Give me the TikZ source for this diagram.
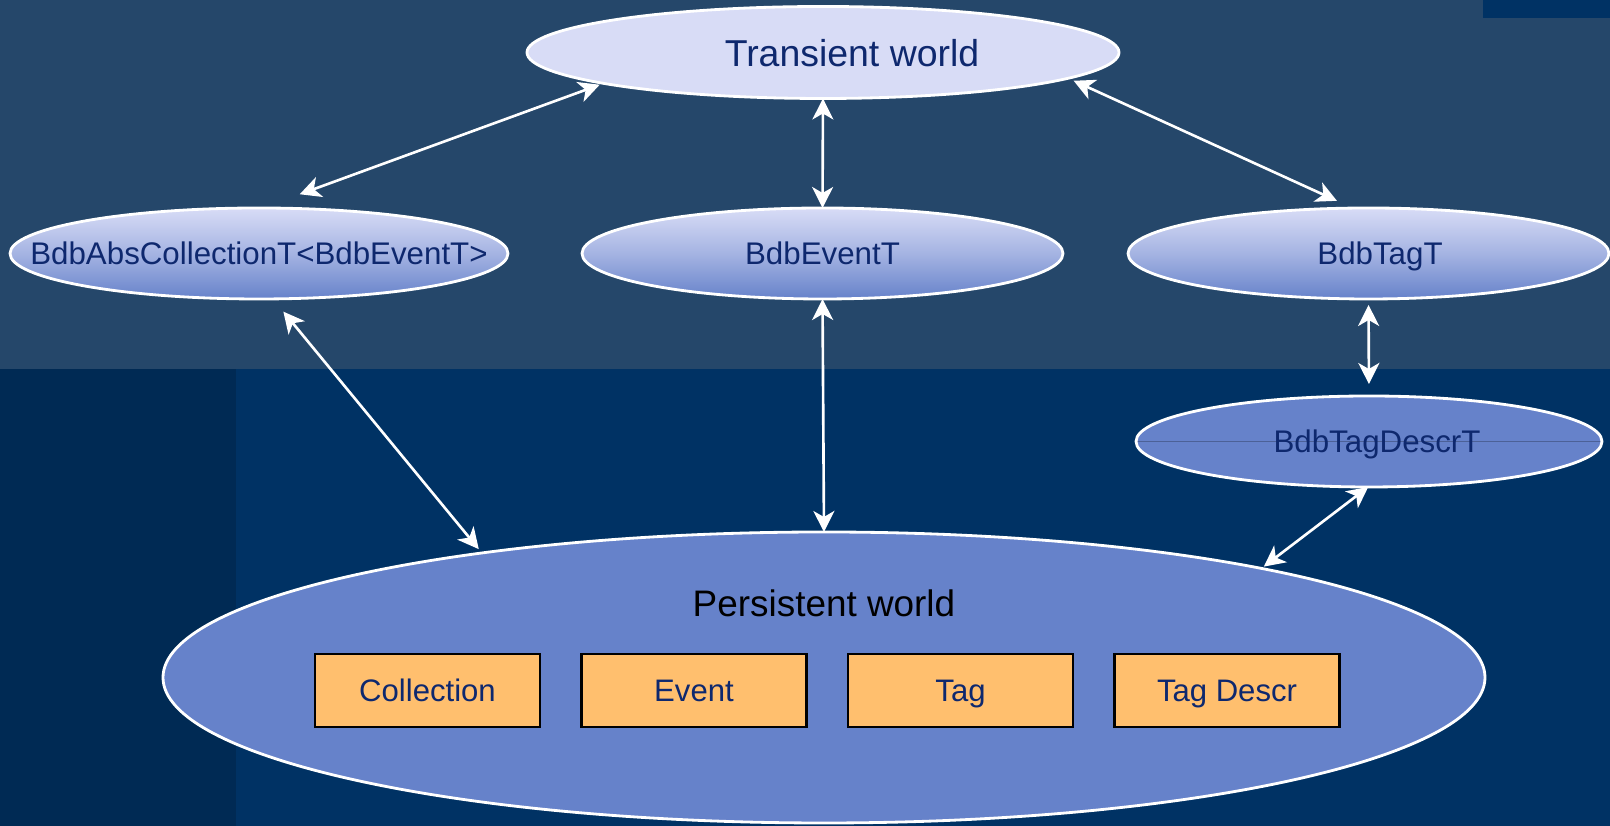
\documentclass[tikz,border=0pt]{standalone}
\usepackage{fontspec}
\setmainfont{Liberation Sans}
\usetikzlibrary{shapes.geometric,positioning,arrows.meta}

\definecolor{bandtop}{RGB}{37,71,106}
\definecolor{bandnavy}{RGB}{0,50,100}
\definecolor{banddark}{RGB}{0,42,84}
\definecolor{worldlight}{RGB}{216,220,246}
\definecolor{worldblue}{RGB}{102,130,202}
\definecolor{textnavy}{RGB}{14,40,110}
\definecolor{storeorange}{RGB}{255,191,110}

\newcommand{\flattext}[2][0pt]{\makebox[0pt]{\hspace*{#1}\hspace*{#1}#2}}

\begin{document}
\begin{tikzpicture}[
		world/.style={ellipse, draw=white, line width=1.6pt, inner sep=0pt, outer sep=0pt,
			text=textnavy, text depth=0pt, font=\fontsize{17.8}{20}\selectfont},
		shaded world/.style={world, top color=worldlight, bottom color=worldblue,
			middle color=worldlight!55!worldblue},
		store/.style={rectangle, draw=black, line width=1.6pt, fill=storeorange, inner sep=0pt,
			outer sep=0pt, minimum width=4.5cm, minimum height=1.46cm, text=textnavy,
			text depth=0pt, font=\fontsize{17.7}{20}\selectfont},
		link/.style={white, line width=1.5pt, >={Stealth[length=4.2mm, width=4.2mm, inset=1.2mm]}, <->}
	]
		\useasboundingbox (0, 0) rectangle (32.2, 16.52);
		\fill [bandtop] (0, 9.14) rectangle (32.2, 16.52);
		\fill [bandnavy] (4.72, 0) rectangle (32.2, 9.14);
		\fill [banddark] (0, 0) rectangle (4.72, 9.14);
		\fill [bandnavy] (29.66, 16.16) rectangle (32.2, 16.52);

		\node [world, fill=worldlight, minimum width=11.84cm, minimum height=1.84cm,
			font=\fontsize{21.3}{25}\selectfont] (transient) at (16.46, 15.47) {\flattext[0.58cm]{Transient world}};

		\node [shaded world, minimum width=9.96cm, minimum height=1.82cm] (abscoll) at (5.18, 11.45)
			{\flattext{BdbAbsCollectionT<BdbEventT>}};
		\node [shaded world, minimum width=9.62cm, minimum height=1.82cm] (event) at (16.45, 11.45) {BdbEventT};
		\node [shaded world, minimum width=9.62cm, minimum height=1.82cm] (tag) at (27.37, 11.45)
			{\flattext[0.23cm]{BdbTagT}};
		\node [world, fill=worldblue, minimum width=9.32cm, minimum height=1.82cm,
			path picture={\draw [worldblue!75!black, line width=0.4pt]
				(path picture bounding box.west) -- (path picture bounding box.east);}]
			(tagdescr) at (27.38, 7.69) {\flattext[0.16cm]{BdbTagDescrT}};

		\node [world, fill=worldblue, minimum width=26.44cm, minimum height=5.82cm] (persistent) at (16.48, 2.97) {};
		\node [text=black, font=\fontsize{21}{25}\selectfont] (ptitle) at (16.48, 4.46) {Persistent world};

		\node [store] (coll) at (8.55, 2.71) {Collection};
		\node [store, right=0.83cm of coll] (evt) {Event};
		\node [store, right=0.83cm of evt] (tg) {Tag};
		\node [store, right=0.83cm of tg] (tgdescr) {Tag Descr};

		\draw [link, shorten <=0.08cm, shorten >=0.8cm] (transient.188) -- (abscoll.86);
		\draw [link] (transient.south) -- (event.north);
		\draw [link, shorten <=0.12cm, shorten >=0.35cm] (transient.354) -- (tag.109);
		\draw [link, shorten <=0.33cm, shorten >=0.1cm] (abscoll.287) -- (persistent.160);
		\draw [link] (event.south) -- (persistent.north);
		\draw [link, shorten <=0.12cm, shorten >=0.24cm] (tag.south) -- (tagdescr.north);
		\draw [link, shorten >=0.06cm] (tagdescr.269) -- (persistent.14);
	\end{tikzpicture}
\end{document}
